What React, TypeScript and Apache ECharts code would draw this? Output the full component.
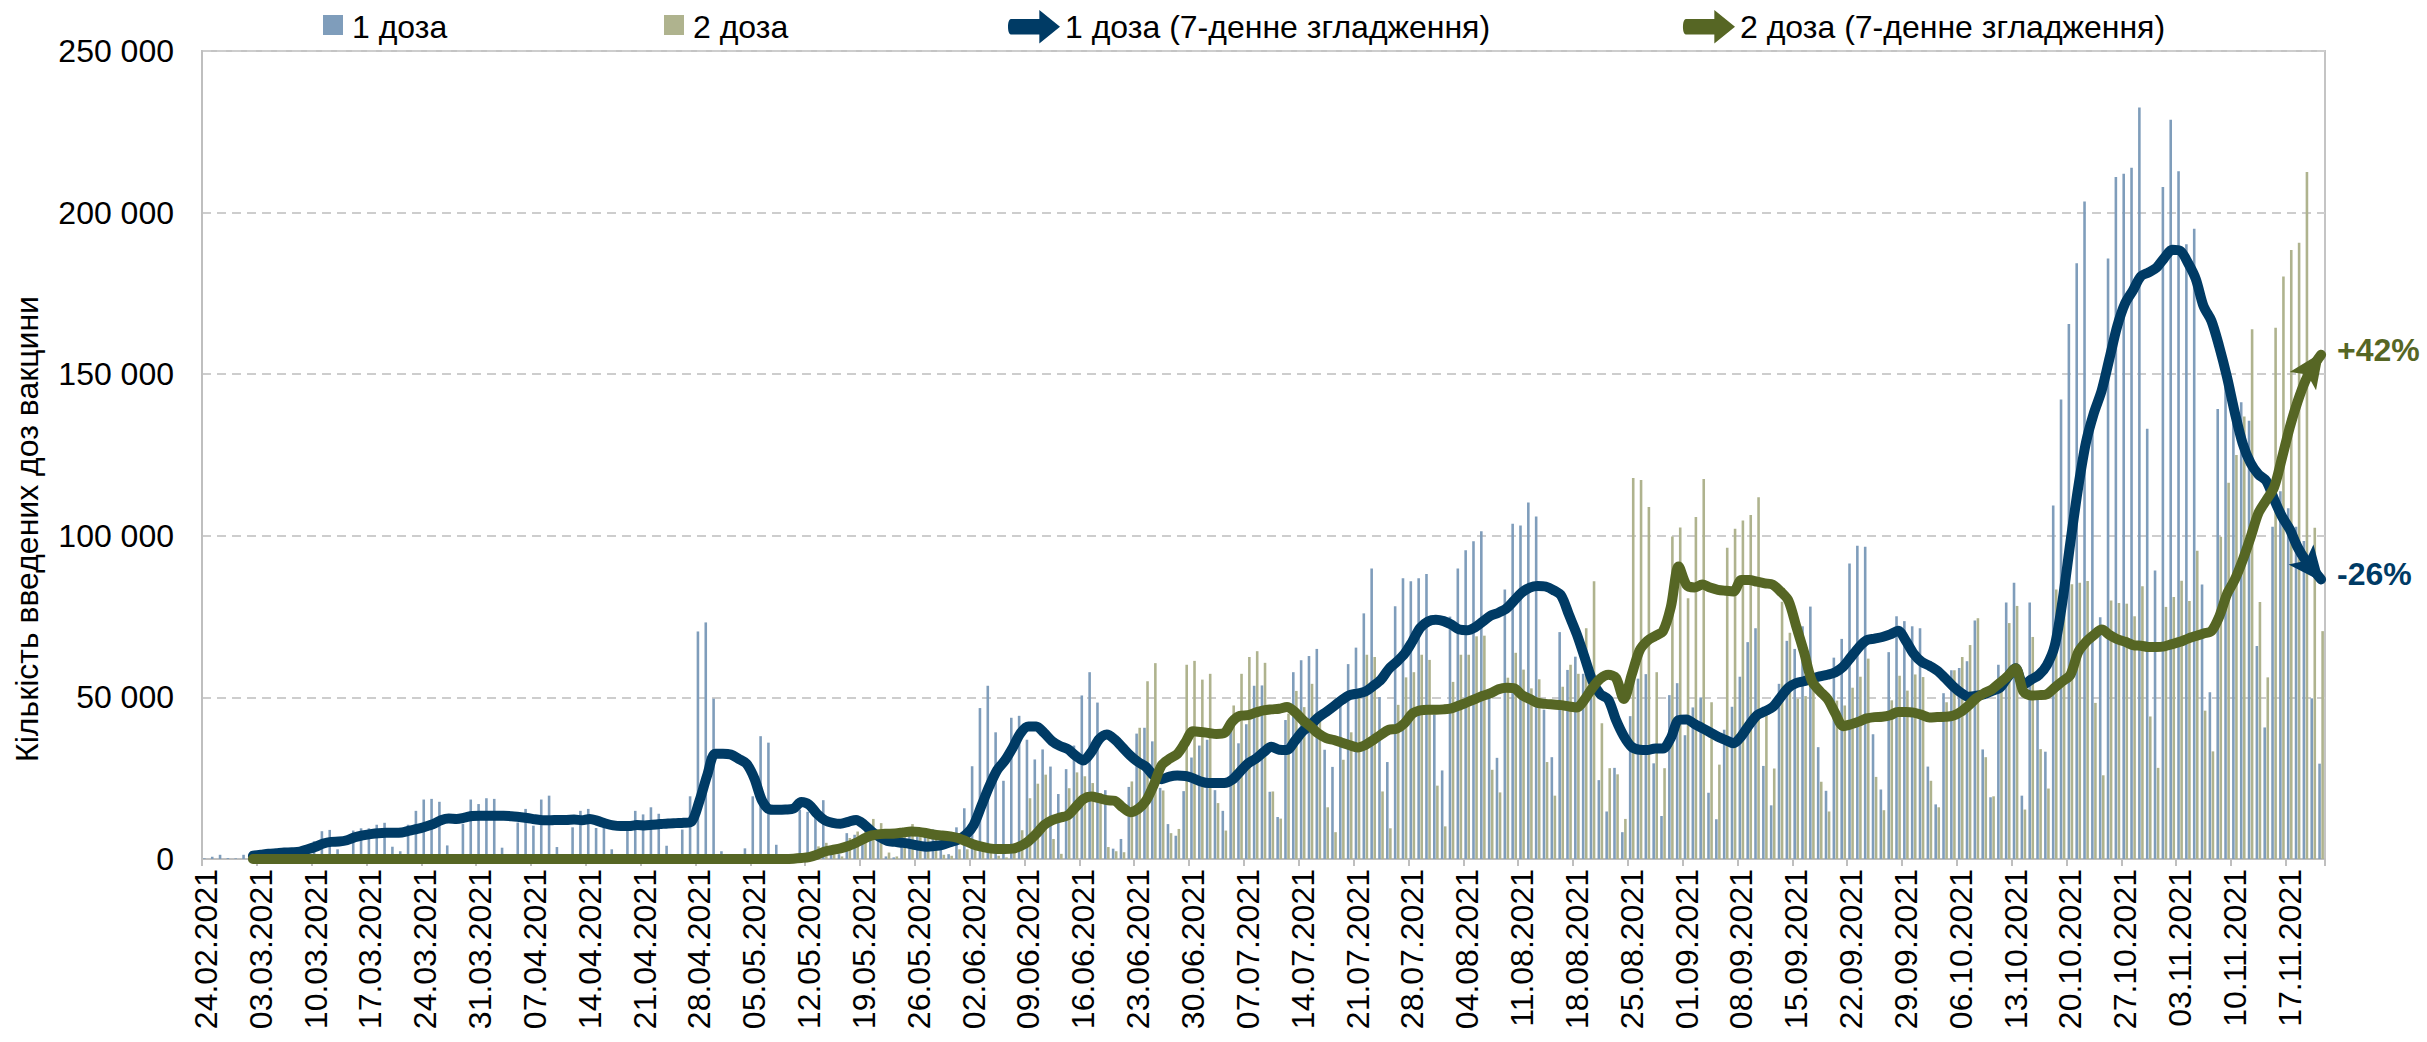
import React, { useEffect, useRef } from "react";
import * as echarts from "echarts";

// Daily doses, in thousands (24.02.2021 – 21.11.2021)
const DOSE1: number[] = [
  0.2, 0.7, 1.3, 0.3, 0.2, 1.3, 1.5, 1.8, 2.0, 2.5,
  0.8, 0.5, 3.0, 3.9, 5.5, 8.6, 9.0, 3.0, 1.5, 8.8,
  9.5, 9.5, 10.6, 11.2, 3.8, 2.4, 10.6, 14.9, 18.4, 18.6,
  17.7, 4.2, 1.5, 10.9, 18.4, 17.0, 18.8, 18.6, 3.5, 1.5,
  11.3, 15.5, 10.3, 18.4, 19.6, 3.7, 1.5, 9.8, 14.9, 15.5,
  9.6, 12.7, 3.0, 1.5, 8.9, 14.9, 13.8, 16.0, 14.0, 4.1,
  1.5, 9.1, 19.4, 70.4, 73.2, 49.6, 2.4, 1.0, 1.5, 3.3,
  19.4, 38.0, 36.0, 4.4, 1.0, 1.5, 15.3, 14.6, 12.7, 18.2,
  3.0, 1.5, 8.0, 7.5, 7.0, 8.0, 6.0, 0.8, 0.5, 9.5,
  8.5, 7.0, 9.2, 9.2, 2.9, 1.5, 9.8, 15.7, 28.7, 46.7,
  53.6, 39.2, 24.2, 43.7, 44.3, 36.9, 30.8, 33.9, 28.6, 20.1,
  27.8, 35.1, 50.6, 57.8, 48.4, 21.3, 3.2, 6.2, 22.3, 38.8,
  40.6, 36.4, 22.0, 10.8, 7.2, 21.0, 31.4, 35.1, 36.9, 21.3,
  14.9, 40.0, 35.8, 41.7, 53.6, 53.7, 20.8, 13.0, 43.0, 57.8,
  61.5, 62.8, 65.0, 33.8, 28.5, 49.7, 60.3, 65.4, 76.0, 89.9,
  50.1, 30.0, 78.2, 86.9, 85.9, 86.9, 88.2, 44.7, 27.4, 75.0,
  89.9, 95.5, 98.3, 101.4, 50.7, 31.3, 83.4, 103.7, 103.2, 110.3,
  106.0, 46.2, 31.5, 70.2, 58.5, 62.6, 57.3, 50.0, 24.4, 14.7,
  28.2, 8.3, 44.2, 55.8, 57.2, 29.6, 13.3, 50.7, 54.4, 38.3,
  46.9, 50.0, 20.5, 12.3, 40.0, 47.1, 56.4, 67.1, 71.4, 28.8,
  16.6, 54.2, 67.5, 65.0, 72.0, 78.1, 34.6, 21.1, 62.3, 68.1,
  91.4, 96.9, 96.6, 38.6, 21.5, 64.0, 75.1, 73.6, 72.0, 71.4,
  28.6, 16.9, 51.3, 58.4, 59.1, 61.2, 73.8, 33.9, 19.1, 60.1,
  79.4, 85.5, 19.6, 79.4, 50.0, 33.2, 109.4, 142.2, 165.5, 184.3,
  203.4, 133.0, 74.8, 185.8, 211.0, 212.0, 213.9, 232.5, 133.1, 89.3,
  207.9, 228.7, 212.8, 190.2, 195.0, 84.9, 51.6, 139.2, 146.1, 140.0,
  141.3, 135.6, 65.9, 40.7, 102.8, 113.8, 108.5, 102.8, 98.4, 49.7, 29.5,
];

const DOSE2: number[] = [
  0, 0, 0, 0, 0, 0, 0, 0, 0, 0,
  0, 0, 0, 0, 0, 0, 0, 0, 0, 0,
  0, 0, 0, 0, 0, 0, 0, 0, 0, 0,
  0, 0, 0, 0, 0, 0, 0, 0, 0, 0,
  0, 0, 0, 0, 0, 0, 0, 0, 0, 0,
  0, 0, 0, 0, 0, 0, 0, 0, 0, 0,
  0, 0, 0, 0, 0, 0, 0, 0, 0, 0,
  0, 0, 0, 0, 0, 0.3, 1.0, 2.0, 3.9, 5.0,
  1.5, 0.8, 6.5, 8.5, 9.0, 12.4, 11.1, 2.0, 0.8, 9.5,
  10.8, 8.0, 7.0, 9.0, 1.3, 1.0, 3.0, 3.0, 3.0, 2.5,
  3.0, 1.0, 0.5, 2.0, 8.9, 18.8, 23.3, 26.1, 6.2, 1.6,
  21.9, 26.8, 25.6, 23.5, 20.4, 3.7, 2.4, 2.1, 24.0, 40.6,
  55.0, 60.6, 21.2, 8.0, 9.3, 60.1, 61.3, 55.5, 57.3, 17.3,
  8.8, 47.5, 57.3, 62.5, 64.3, 60.7, 20.9, 12.5, 45.0, 52.0,
  47.0, 54.2, 45.1, 16.0, 8.3, 30.7, 39.2, 50.8, 63.2, 62.5,
  20.9, 9.5, 47.7, 56.2, 57.8, 63.2, 61.6, 22.7, 10.1, 54.8,
  63.2, 63.2, 68.9, 69.1, 27.6, 20.6, 56.1, 63.8, 58.6, 52.8,
  55.6, 30.0, 19.6, 53.3, 60.1, 57.3, 71.4, 85.9, 42.0, 28.1,
  26.2, 12.4, 117.9, 117.3, 108.9, 57.8, 28.1, 99.8, 102.6, 80.7,
  105.8, 117.6, 48.5, 29.2, 96.3, 102.2, 104.7, 106.4, 111.9, 46.6,
  28.0, 79.6, 70.0, 49.6, 50.4, 54.4, 23.9, 14.7, 49.0, 47.5,
  53.0, 56.4, 62.0, 25.4, 15.1, 49.1, 56.7, 52.1, 57.1, 56.3,
  24.2, 16.0, 48.5, 58.4, 62.5, 66.2, 74.5, 31.5, 19.4, 55.0,
  73.0, 78.3, 15.3, 68.7, 34.0, 21.8, 83.4, 84.4, 85.0, 85.5,
  86.0, 48.3, 25.9, 80.0, 79.2, 79.0, 75.1, 84.4, 44.1, 28.2,
  78.0, 81.1, 86.1, 79.8, 95.4, 45.9, 33.3, 99.7, 116.4, 125.0,
  136.9, 163.9, 79.5, 56.2, 164.4, 180.2, 188.4, 190.7, 212.6, 102.5, 70.5,
];

// 7-day smoothed lines, in thousands
const SMOOTH1: (number | null)[] = [
  null, null, null, null, null, null, 1.0, 1.3, 1.6, 1.8,
  2.0, 2.1, 2.3, 3.0, 3.8, 4.8, 5.3, 5.4, 5.8, 6.7,
  7.3, 7.7, 8.0, 8.1, 8.1, 8.2, 8.8, 9.3, 10.0, 10.8,
  12.0, 12.5, 12.4, 12.8, 13.3, 13.4, 13.4, 13.4, 13.4, 13.2,
  13.0, 12.7, 12.3, 12.0, 12.0, 12.1, 12.1, 12.2, 12.0, 12.4,
  11.8, 11.0, 10.4, 10.2, 10.2, 10.5, 10.4, 10.6, 10.8, 11.0,
  11.1, 11.2, 11.6, 18.0, 26.0, 32.6, 32.6, 32.3, 31.0, 29.5,
  25.0, 18.0, 15.3, 15.2, 15.3, 15.6, 17.6, 16.8, 14.0, 12.0,
  11.2, 10.9, 11.5, 12.1, 10.7, 8.5, 6.8, 5.6, 5.3, 5.0,
  4.6, 4.1, 3.8, 4.0, 4.4, 5.2, 6.0, 7.5, 10.5, 16.5,
  22.5, 27.5, 30.5, 34.5, 39.0, 41.0, 41.0, 39.0, 36.5, 35.0,
  34.0, 32.0, 30.5, 33.0, 37.0, 38.5, 37.0, 34.5, 32.0, 30.0,
  28.5, 25.8, 24.7, 25.5, 25.8, 25.7, 25.0, 24.0, 23.5, 23.5,
  23.5, 24.5, 27.0, 29.5, 31.0, 33.0, 34.7, 33.8, 33.7, 36.5,
  39.5, 41.5, 43.8, 45.5, 47.3, 49.2, 50.7, 51.2, 51.8, 53.5,
  55.5, 58.8, 61.0, 63.5, 67.3, 71.5, 73.5, 74.0, 73.6, 72.5,
  71.0, 70.8, 71.7, 73.5, 75.3, 76.2, 77.5, 80.0, 82.5, 84.0,
  84.5, 84.3, 83.2, 81.5, 75.5, 69.5, 62.3, 55.0, 51.0, 49.4,
  43.0, 38.0, 34.7, 33.8, 33.7, 34.2, 34.2, 37.5, 43.0, 43.2,
  41.8, 40.5, 39.2, 37.8, 36.8, 35.8, 38.0, 41.5, 44.5, 45.7,
  47.0, 50.0, 53.0, 54.4, 55.0, 55.8, 56.5, 57.0, 57.8, 59.5,
  62.5, 65.5, 67.7, 68.2, 68.7, 69.5, 70.6, 67.5, 63.5, 61.0,
  59.8, 58.3, 56.0, 53.5, 51.5, 50.2, 50.5, 51.0, 52.0, 53.0,
  56.3, 59.0, 54.0, 55.5, 57.0, 60.0, 66.0, 80.0, 98.0, 115.0,
  129.0, 138.0, 145.0, 155.0, 165.0, 172.0, 176.0, 180.3, 181.5, 183.0,
  186.0, 188.5, 188.2, 184.5, 179.5, 171.0, 166.5, 158.5, 149.0, 138.0,
  128.5, 122.5, 119.0, 117.0, 111.3, 106.0, 102.0, 96.5, 92.5, 89.5, 86.5,
];

const SMOOTH2: (number | null)[] = [
  null, null, null, null, null, null, 0, 0, 0, 0,
  0, 0, 0, 0, 0, 0, 0, 0, 0, 0,
  0, 0, 0, 0, 0, 0, 0, 0, 0, 0,
  0, 0, 0, 0, 0, 0, 0, 0, 0, 0,
  0, 0, 0, 0, 0, 0, 0, 0, 0, 0,
  0, 0, 0, 0, 0, 0, 0, 0, 0, 0,
  0, 0, 0, 0, 0, 0, 0, 0, 0, 0,
  0, 0, 0, 0, 0, 0.1, 0.3, 0.6, 1.3, 2.3,
  2.8, 3.3, 4.0, 5.0, 6.3, 7.3, 7.7, 7.8, 7.9, 8.2,
  8.5, 8.4, 8.0, 7.5, 7.3, 7.0, 6.5, 5.5, 4.5, 3.8,
  3.3, 3.1, 3.1, 3.2, 4.0, 5.5, 7.8, 10.5, 12.0, 12.8,
  13.5, 16.0, 18.5, 19.3, 18.8, 18.2, 18.0, 16.0, 14.5, 15.5,
  18.0, 23.0, 29.0, 31.0, 32.5, 36.0, 39.5, 39.3, 39.0, 38.7,
  39.0, 42.5, 44.3, 44.5, 45.3, 46.0, 46.3, 46.5, 47.0, 45.5,
  43.0, 41.0, 38.8, 37.4, 36.8, 36.0, 35.2, 34.5, 35.3, 36.8,
  38.5, 40.0, 40.3, 42.0, 45.0, 46.0, 46.2, 46.2, 46.3, 46.6,
  47.5, 48.5, 49.5, 50.5, 51.3, 52.5, 53.0, 52.8, 50.7, 49.5,
  48.3, 48.0, 47.8, 47.6, 47.2, 46.9, 49.4, 53.0, 55.8, 57.0,
  56.0, 49.5, 57.0, 64.5, 67.5, 69.0, 70.5, 78.0, 90.5, 84.8,
  84.0, 84.9, 84.0, 83.3, 83.0, 82.8, 86.3, 86.3, 85.8, 85.3,
  84.9, 82.8, 80.0, 72.0, 64.0, 55.0, 52.0, 49.5, 45.0, 41.1,
  41.7, 42.5, 43.5, 43.9, 44.0, 44.5, 45.5, 45.5, 45.3, 44.6,
  43.8, 43.9, 44.0, 44.3, 45.5, 47.5, 49.8, 51.3, 52.5, 54.5,
  56.6, 59.0, 51.8, 50.6, 50.7, 51.0, 53.0, 55.0, 57.0, 64.0,
  67.2, 69.3, 71.0, 69.3, 68.0, 67.2, 66.2, 66.0, 65.6, 65.6,
  65.8, 66.5, 67.2, 68.2, 69.0, 69.8, 70.5, 75.0, 82.0, 86.5,
  92.5, 99.5, 107.0, 111.0, 115.0, 124.0, 133.5, 141.5, 148.0, 152.5, 156.0,
];

const Y_TICKS = [0, 50, 100, 150, 200, 250];
const END_LABEL_1 = "-26%";
const END_LABEL_2 = "+42%";
const Y_TITLE = "Кількість введених доз вакцини";

const FIRST_DAY = { y: 2021, m: 1, d: 24 };
const DATES: string[] = DOSE1.map((_, k) => {
  const dt = new Date(Date.UTC(FIRST_DAY.y, FIRST_DAY.m, FIRST_DAY.d + k));
  const dd = String(dt.getUTCDate()).padStart(2, "0");
  const mm = String(dt.getUTCMonth() + 1).padStart(2, "0");
  return `${dd}.${mm}.${dt.getUTCFullYear()}`;
});

const C_BAR1 = "#7f9dbb";
const C_BAR2 = "#afb38e";
const C_LINE1 = "#003b65";
const C_LINE2 = "#566624";
const FONT = "Liberation Sans";
const FS = 32;
const ARROW_ICON =
  "path://M2,9 L24,9 L24,2 L40,15 L24,28 L24,21 L2,21 C-1,21 -1,9 2,9 Z";

export default function App() {
  const ref = useRef<HTMLDivElement>(null);

  useEffect(() => {
    document.body.style.margin = "0";
    if (!ref.current) return;
    const chart = echarts.init(ref.current, null, { renderer: "svg" });
    const n = DATES.length;
    const textStyle = { fontFamily: FONT, fontSize: FS, color: "#000" };
    const staticGraphics = [
      {
        id: "ytitle",
        type: "text",
        x: 27,
        y: 529,
        rotation: Math.PI / 2,
        style: {
          text: Y_TITLE,
          fontFamily: FONT,
          fontSize: FS,
          fill: "#000",
          textAlign: "center",
          textVerticalAlign: "middle",
        },
      },
      // square legend swatches for the two bar series
      {
        id: "sw1",
        type: "rect",
        z: 100,
        shape: { x: 323, y: 15, width: 20, height: 20 },
        style: { fill: C_BAR1 },
      },
      {
        id: "sw2",
        type: "rect",
        z: 100,
        shape: { x: 664, y: 15, width: 20, height: 20 },
        style: { fill: C_BAR2 },
      },
    ];
    chart.setOption({
      animation: false,
      textStyle: { fontFamily: FONT },
      grid: {
        left: 202,
        right: 102,
        top: 51,
        bottom: 183,
        show: true,
        borderColor: "#c4c4c4",
        borderWidth: 2,
        containLabel: false,
      },
      graphic: staticGraphics,
      legend: [
        {
          data: [{ name: "1 доза", icon: "rect", itemStyle: { opacity: 0 } }],
          left: 322,
          top: 6,
          itemWidth: 20,
          itemHeight: 20,
          textStyle,
        },
        {
          data: [{ name: "2 доза", icon: "rect", itemStyle: { opacity: 0 } }],
          left: 663,
          top: 6,
          itemWidth: 20,
          itemHeight: 20,
          textStyle,
        },
        {
          data: [{ name: "1 доза (7-денне згладження)", icon: ARROW_ICON }],
          left: 1003,
          top: 5,
          itemWidth: 52,
          itemHeight: 36,
          textStyle,
        },
        {
          data: [{ name: "2 доза (7-денне згладження)", icon: ARROW_ICON }],
          left: 1678,
          top: 5,
          itemWidth: 52,
          itemHeight: 36,
          textStyle,
        },
      ],
      xAxis: {
        type: "category",
        data: DATES,
        boundaryGap: true,
        axisLine: { lineStyle: { color: "#bfbfbf", width: 2 } },
        axisTick: {
          show: true,
          interval: 6,
          length: 7,
          lineStyle: { color: "#bfbfbf", width: 2 },
        },
        axisLabel: {
          interval: 6,
          rotate: 90,
          margin: 10,
          fontSize: FS,
          fontFamily: FONT,
          color: "#000",
        },
        splitLine: { show: false },
      },
      yAxis: {
        type: "value",
        min: Y_TICKS[0],
        max: Y_TICKS[Y_TICKS.length - 1],
        interval: Y_TICKS[1] - Y_TICKS[0],
        axisLine: { show: true, lineStyle: { color: "#bfbfbf", width: 2 } },
        axisTick: { show: false },
        axisLabel: {
          margin: 28,
          fontSize: FS,
          fontFamily: FONT,
          color: "#000",
          formatter: (v: number) => (v === 0 ? "0" : `${v} 000`),
        },
        splitLine: {
          show: true,
          lineStyle: { color: "#cdcdcd", width: 2, type: [9, 6] },
        },
      },
      series: [
        {
          name: "1 доза",
          type: "bar",
          data: DOSE1,
          itemStyle: { color: C_BAR1 },
          barCategoryGap: "28%",
          barGap: "18%",
        },
        {
          name: "2 доза",
          type: "bar",
          data: DOSE2,
          itemStyle: { color: C_BAR2 },
          barCategoryGap: "28%",
          barGap: "18%",
        },
        {
          name: "1 доза (7-денне згладження)",
          type: "line",
          data: SMOOTH1,
          showSymbol: false,
          smooth: 0.3,
          itemStyle: { color: C_LINE1 },
          lineStyle: { color: C_LINE1, width: 10, cap: "round", join: "round" },
          endLabel: {
            show: true,
            formatter: END_LABEL_1,
            color: C_LINE1,
            fontWeight: "bold",
            fontSize: FS,
            fontFamily: FONT,
            distance: 16,
            offset: [0, -5],
          },
          z: 3,
        },
        {
          name: "2 доза (7-денне згладження)",
          type: "line",
          data: SMOOTH2,
          showSymbol: false,
          smooth: 0.3,
          itemStyle: { color: C_LINE2 },
          lineStyle: { color: C_LINE2, width: 10, cap: "round", join: "round" },
          endLabel: {
            show: true,
            formatter: END_LABEL_2,
            color: C_LINE2,
            fontWeight: "bold",
            fontSize: FS,
            fontFamily: FONT,
            distance: 16,
            offset: [0, -5],
          },
          z: 4,
        },
      ],
    });

    // Arrowheads at the ends of the smoothed lines, placed via the chart's own scales
    const arrowHead = (id: string, vals: (number | null)[], color: string) => {
      const p1 = chart.convertToPixel({ gridIndex: 0 }, [DATES[n - 2], vals[n - 2]]) as number[];
      const p2 = chart.convertToPixel({ gridIndex: 0 }, [DATES[n - 1], vals[n - 1]]) as number[];
      const dx = p2[0] - p1[0];
      const dy = p2[1] - p1[1];
      const len = Math.hypot(dx, dy) || 1;
      const ux = dx / len;
      const uy = dy / len;
      const px = -uy;
      const py = ux;
      const L = 36;
      const W = 32;
      const tip = [p2[0] + ux * 4, p2[1] + uy * 4];
      const back = [tip[0] - ux * L, tip[1] - uy * L];
      const notch = [tip[0] - ux * L * 0.78, tip[1] - uy * L * 0.78];
      return {
        id,
        type: "polygon",
        z: 10,
        silent: true,
        shape: {
          points: [
            tip,
            [back[0] + px * W / 2, back[1] + py * W / 2],
            notch,
            [back[0] - px * W / 2, back[1] - py * W / 2],
          ],
        },
        style: { fill: color },
      };
    };
    chart.setOption({
      graphic: [
        ...staticGraphics,
        arrowHead("arrow1", SMOOTH1, C_LINE1),
        arrowHead("arrow2", SMOOTH2, C_LINE2),
      ],
    });
    return () => chart.dispose();
  }, []);

  return <div ref={ref} style={{ width: 2427, height: 1042 }} />;
}
